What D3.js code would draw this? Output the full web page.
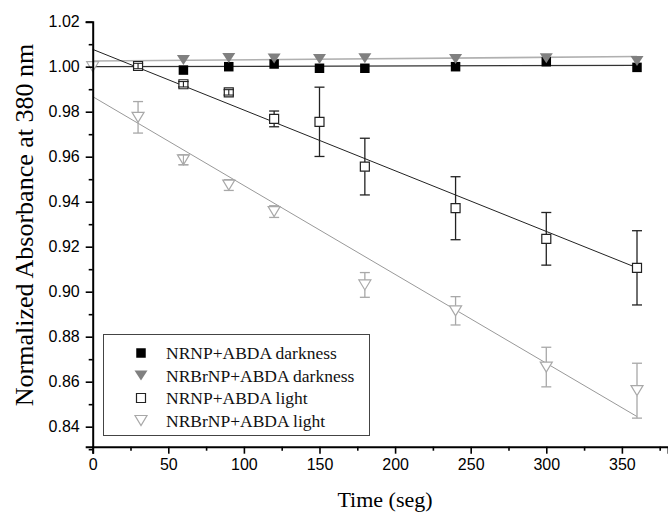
<!DOCTYPE html>
<html>
<head>
<meta charset="utf-8">
<script src="https://cdn.jsdelivr.net/npm/d3@7"></script>
<style>
  body { margin: 0; background: #fff; }
  svg { display: block; }
  .tick text { font-family: "Liberation Sans", Arial, sans-serif; font-size: 16px; fill: #000; }
</style>
</head>
<body>
<svg id="chart" width="668" height="513"></svg>
<script>
// time points (s)
const timesDark = [60, 90, 120, 150, 180, 240, 300, 360];
const timesLightNRNP = [30, 60, 90, 120, 150, 180, 240, 300, 360];
const timesLightNRBrNP = [0, 30, 60, 90, 120, 180, 240, 300, 360];

// normalized absorbance values
const darkNRNP = [0.9985, 1.000, 1.0012, 0.9993, 0.9993, 1.000, 1.0022, 0.9997];
const darkNRBrNP = [1.0030, 1.0039, 1.0036, 1.0034, 1.0037, 1.0034, 1.0037, 1.0025];
const lightNRNP = [1.0003, 0.9922, 0.9886, 0.9768, 0.9755, 0.9556, 0.9371, 0.9235, 0.9106];
const lightNRNPErr = [0.0012, 0.0012, 0.0012, 0.0035, 0.0154, 0.0126, 0.014, 0.0117, 0.0165];
const lightNRBrNP = [1.000, 0.9775, 0.9586, 0.9474, 0.9356, 0.9030, 0.8915, 0.8665, 0.8560];
const lightNRBrNPErr = [0, 0.007, 0.0022, 0.0024, 0.0026, 0.0055, 0.0063, 0.0088, 0.0122];

// linear fit end points [time, value]
const fitDarkNRNP = [[0, 1.0000], [360, 1.0006]];
const fitDarkNRBrNP = [[0, 1.0025], [360, 1.0045]];
const fitLightNRNP = [[0, 1.0077], [360, 0.9106]];
const fitLightNRBrNP = [[0, 0.9867], [360, 0.8445]];

const xMajor = [0, 50, 100, 150, 200, 250, 300, 350];
const xMinor = [25, 75, 125, 175, 225, 275, 325, 375];
const yMajor = [0.84, 0.86, 0.88, 0.90, 0.92, 0.94, 0.96, 0.98, 1.00, 1.02];
const yMinor = [0.83, 0.85, 0.87, 0.89, 0.91, 0.93, 0.95, 0.97, 0.99, 1.01];

const legendLabels = ["NRNP+ABDA darkness", "NRBrNP+ABDA darkness", "NRNP+ABDA light", "NRBrNP+ABDA light"];

const svg = d3.select("#chart");

const x = d3.scaleLinear().domain([0, 380.5]).range([92.7, 668]);
const y = d3.scaleLinear().domain([0.8311, 1.02]).range([446.7, 21.7]);

const black = "#000";
const darkGray = "#808080";
const lightGray = "#a8a8a8";

// fit lines
const line = d3.line().x(d => x(d[0])).y(d => y(d[1]));
svg.append("path").datum(fitDarkNRBrNP).attr("d", line)
    .attr("fill", "none").attr("stroke", "#b0b0b0").attr("stroke-width", 1.6);
svg.append("path").datum(fitDarkNRNP).attr("d", line)
    .attr("fill", "none").attr("stroke", "#333").attr("stroke-width", 1.2);
svg.append("path").datum(fitLightNRNP).attr("d", line)
    .attr("fill", "none").attr("stroke", "#222").attr("stroke-width", 1);
svg.append("path").datum(fitLightNRBrNP).attr("d", line)
    .attr("fill", "none").attr("stroke", "#999").attr("stroke-width", 1);

// marker shapes (centered at 0,0)
function triDown(w, h) {
    return `M${-w / 2},${-h / 2}L${w / 2},${-h / 2}L0,${h / 2}Z`;
}
function square(s) {
    return `M${-s / 2},${-s / 2}h${s}v${s}h${-s}Z`;
}

// error bars: draw parts outside the marker plus caps
function errorBars(times, vals, errs, color, halfH) {
    const g = svg.append("g").attr("stroke", color).attr("stroke-width", 1.3).attr("fill", "none");
    vals.forEach((v, i) => {
        if (!errs[i]) return;
        const cx = x(times[i]);
        const cy = y(v);
        const top = y(v + errs[i]);
        const bot = y(v - errs[i]);
        if (cy - top > halfH) {
            g.append("line").attr("x1", cx).attr("x2", cx).attr("y1", top).attr("y2", cy - halfH);
            g.append("line").attr("x1", cx).attr("x2", cx).attr("y1", cy + halfH).attr("y2", bot);
        }
        g.append("line").attr("x1", cx - 5).attr("x2", cx + 5).attr("y1", top).attr("y2", top);
        g.append("line").attr("x1", cx - 5).attr("x2", cx + 5).attr("y1", bot).attr("y2", bot);
    });
    return g;
}

// small errors sit inside the marker, so their bar is drawn on top
function smallErrorBars(times, vals, errs, color, halfH) {
    const g = svg.append("g").attr("stroke", color).attr("stroke-width", 1.1).attr("fill", "none");
    vals.forEach((v, i) => {
        if (!errs[i]) return;
        const cx = x(times[i]);
        const top = y(v + errs[i]);
        const bot = y(v - errs[i]);
        if (y(v) - top <= halfH) {
            g.append("line").attr("x1", cx).attr("x2", cx).attr("y1", top).attr("y2", bot);
            g.append("line").attr("x1", cx - 5).attr("x2", cx + 5).attr("y1", top).attr("y2", top);
            g.append("line").attr("x1", cx - 5).attr("x2", cx + 5).attr("y1", bot).attr("y2", bot);
        }
    });
}

// light series (open markers)
errorBars(timesLightNRBrNP, lightNRBrNP, lightNRBrNPErr, lightGray, 5);
svg.append("g").selectAll("path")
    .data(lightNRBrNP)
    .join("path")
    .attr("d", triDown(12, 10))
    .attr("transform", (d, i) => `translate(${x(timesLightNRBrNP[i])},${y(d)})`)
    .attr("fill", "#fff")
    .attr("stroke", lightGray)
    .attr("stroke-width", 1.2);
smallErrorBars(timesLightNRBrNP, lightNRBrNP, lightNRBrNPErr, lightGray, 5);

errorBars(timesLightNRNP, lightNRNP, lightNRNPErr, "#222", 4.6);
svg.append("g").selectAll("path")
    .data(lightNRNP)
    .join("path")
    .attr("d", square(9))
    .attr("transform", (d, i) => `translate(${x(timesLightNRNP[i])},${y(d)})`)
    .attr("fill", "#fff")
    .attr("stroke", "#222")
    .attr("stroke-width", 1.2);
smallErrorBars(timesLightNRNP, lightNRNP, lightNRNPErr, "#222", 4.6);

// darkness series (filled markers)
svg.append("g").selectAll("path")
    .data(darkNRNP)
    .join("path")
    .attr("d", square(9.5))
    .attr("transform", (d, i) => `translate(${x(timesDark[i])},${y(d)})`)
    .attr("fill", black);

svg.append("g").selectAll("path")
    .data(darkNRBrNP)
    .join("path")
    .attr("d", triDown(13, 10))
    .attr("transform", (d, i) => `translate(${x(timesDark[i])},${y(d)})`)
    .attr("fill", darkGray);

// axes
svg.append("g")
    .attr("transform", `translate(0,${y.range()[0]})`)
    .call(d3.axisBottom(x).tickValues(xMajor).tickFormat(d3.format("d")).tickSize(7).tickPadding(5));
svg.append("g")
    .attr("transform", `translate(0,${y.range()[0]})`)
    .call(d3.axisBottom(x).tickValues(xMinor).tickFormat("").tickSize(4))
    .call(g => g.select(".domain").remove());

svg.append("g")
    .attr("transform", `translate(${x.range()[0]},0)`)
    .call(d3.axisLeft(y).tickValues(yMajor).tickFormat(d3.format(".2f")).tickSize(7).tickPadding(6));
svg.append("g")
    .attr("transform", `translate(${x.range()[0]},0)`)
    .call(d3.axisLeft(y).tickValues(yMinor).tickFormat("").tickSize(4))
    .call(g => g.select(".domain").remove());

svg.selectAll(".domain").attr("stroke", "#000").attr("stroke-width", 2);
svg.selectAll(".tick line").attr("stroke", "#000").attr("stroke-width", 1.6);

// axis titles
svg.append("text")
    .attr("x", 385)
    .attr("y", 507)
    .attr("text-anchor", "middle")
    .style("font-family", "'Liberation Serif', 'Times New Roman', serif")
    .style("font-size", "22px")
    .text("Time (seg)");

svg.append("text")
    .attr("transform", "translate(33,225) rotate(-90)")
    .attr("text-anchor", "middle")
    .style("font-family", "'Liberation Serif', 'Times New Roman', serif")
    .style("font-size", "26px")
    .text("Normalized Absorbance at 380 nm");

// legend
const legend = svg.append("g");
legend.append("rect")
    .attr("x", 103.5).attr("y", 334.5)
    .attr("width", 266).attr("height", 101)
    .attr("fill", "#fff")
    .attr("stroke", "#444")
    .attr("stroke-width", 1);

const legendRows = [353, 375.5, 398, 420.5];
const legendShapes = [
    { d: square(9.5), fill: black, stroke: "none" },
    { d: triDown(13, 10), fill: darkGray, stroke: "none" },
    { d: square(9), fill: "#fff", stroke: "#222" },
    { d: triDown(12, 10), fill: "#fff", stroke: lightGray }
];
legendLabels.forEach((label, i) => {
    legend.append("path")
        .attr("d", legendShapes[i].d)
        .attr("transform", `translate(141,${legendRows[i]})`)
        .attr("fill", legendShapes[i].fill)
        .attr("stroke", legendShapes[i].stroke)
        .attr("stroke-width", 1.2);
    legend.append("text")
        .attr("x", 166)
        .attr("y", legendRows[i] + 6)
        .style("font-family", "'Liberation Serif', 'Times New Roman', serif")
        .style("font-size", "17.5px")
        .attr("fill", "#111")
        .text(label);
});
</script>
</body>
</html>
